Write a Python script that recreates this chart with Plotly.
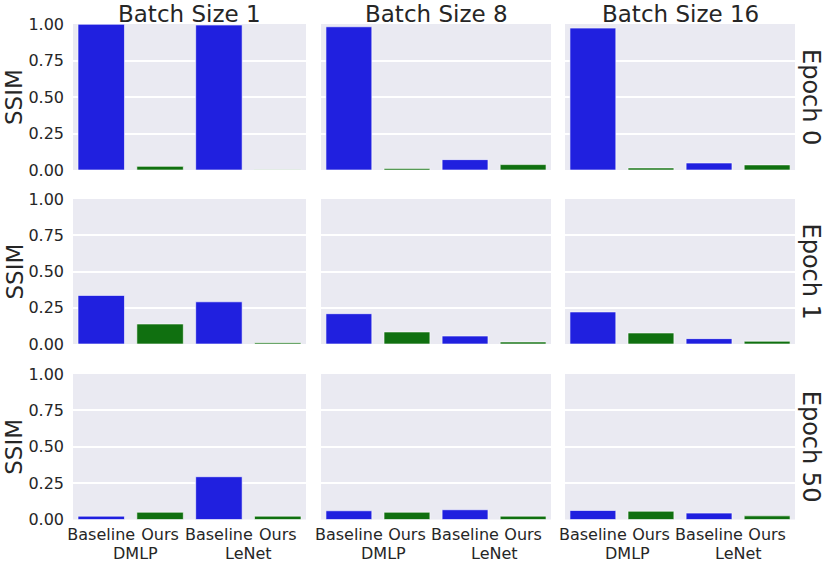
import plotly.graph_objects as go

# Grid of panels: rows = epochs, columns = batch sizes
batch_sizes = ["Batch Size 1", "Batch Size 8", "Batch Size 16"]
epochs = ["Epoch 0", "Epoch 1", "Epoch 50"]
methods = ["Baseline", "Ours", "Baseline", "Ours"]
models = ["DMLP", "LeNet"]
y_ticks = [0.0, 0.25, 0.5, 0.75, 1.0]

# per batch size: [DMLP baseline, DMLP ours, LeNet baseline, LeNet ours]
ssim_epoch0 = [
    [0.998, 0.025, 0.993, 0.002],
    [0.981, 0.011, 0.071, 0.037],
    [0.972, 0.014, 0.048, 0.035],
]
ssim_epoch1 = [
    [0.335, 0.138, 0.291, 0.009],
    [0.209, 0.083, 0.055, 0.014],
    [0.221, 0.076, 0.037, 0.019],
]
ssim_epoch50 = [
    [0.023, 0.050, 0.294, 0.023],
    [0.060, 0.050, 0.067, 0.023],
    [0.062, 0.057, 0.044, 0.025],
]
ssim = [ssim_epoch0, ssim_epoch1, ssim_epoch50]

BLUE = "#2020df"
GREEN = "#107010"
bar_colors = [BLUE, GREEN, BLUE, GREEN]
TEXT = "#262626"
FONT = "DejaVu Sans"

W, H = 830, 563
col_px = [(73, 306), (321, 551), (565, 795)]
row_px = [(24, 170), (199, 344), (374, 519.5)]

fig = go.Figure()
layout = {}
xs = list(range(len(methods)))

for i, ep in enumerate(epochs):
    for j, bs in enumerate(batch_sizes):
        idx = i * 3 + j + 1
        suffix = "" if idx == 1 else str(idx)
        fig.add_trace(go.Bar(
            x=xs,
            y=ssim[i][j],
            width=0.79,
            marker=dict(color=bar_colors, line=dict(color="rgba(255,255,255,0.6)", width=1)),
            xaxis="x" + suffix,
            yaxis="y" + suffix,
            showlegend=False,
        ))
        x0, x1 = col_px[j]
        y0, y1 = row_px[i]
        layout["xaxis" + suffix] = dict(
            domain=[x0 / W, x1 / W],
            anchor="y" + suffix,
            range=[-0.48, 3.48],
            tickvals=xs,
            ticktext=methods,
            showticklabels=(i == 2),
            showgrid=False,
            zeroline=False,
            ticks="",
            automargin=False,
            ticklabelstandoff=3,
            tickfont=dict(size=16, color=TEXT, family=FONT),
        )
        layout["yaxis" + suffix] = dict(
            domain=[1 - y1 / H, 1 - y0 / H],
            anchor="x" + suffix,
            range=[0, 1.0],
            tickvals=y_ticks,
            tickformat=".2f",
            showticklabels=(j == 0),
            showgrid=True,
            gridcolor="white",
            gridwidth=1.5,
            zeroline=False,
            ticks="",
            automargin=False,
            ticklabelstandoff=8,
            tickfont=dict(size=16, color=TEXT, family=FONT),
        )

annotations = []
for j, bs in enumerate(batch_sizes):
    x0, x1 = col_px[j]
    annotations.append(dict(
        text=bs, x=(x0 + x1) / 2 / W, y=1 - 14 / H, xref="paper", yref="paper",
        showarrow=False, xanchor="center", yanchor="middle",
        font=dict(size=23, color=TEXT, family=FONT),
    ))
    # model names under each pair of bars
    suffix = str(6 + j + 1)
    for k, m in enumerate(models):
        annotations.append(dict(
            text=m, x=0.59 if k == 0 else 2.5, y=1 - 553 / H, xref="x" + suffix, yref="paper",
            showarrow=False, xanchor="center", yanchor="middle",
            font=dict(size=16, color=TEXT, family=FONT),
        ))
for i, ep in enumerate(epochs):
    y0, y1 = row_px[i]
    yc = 1 - (y0 + y1) / 2 / H
    annotations.append(dict(
        text=ep, x=811 / W, y=yc, xref="paper", yref="paper",
        showarrow=False, xanchor="center", yanchor="middle", textangle=90,
        font=dict(size=24, color=TEXT, family=FONT),
    ))
    annotations.append(dict(
        text="SSIM", x=14 / W, y=yc, xref="paper", yref="paper",
        showarrow=False, xanchor="center", yanchor="middle", textangle=-90,
        font=dict(size=23, color=TEXT, family=FONT),
    ))

fig.update_layout(
    **layout,
    annotations=annotations,
    width=W,
    height=H,
    margin=dict(l=0, r=0, t=0, b=0, autoexpand=False),
    plot_bgcolor="#eaeaf2",
    paper_bgcolor="white",
    font=dict(family=FONT, color=TEXT),
    bargap=0.2,
)

# drop the page's default body margin so the figure sits at the window corner
fig.write_html(
    "out.html",
    config={"displayModeBar": False},
    post_script="document.body.style.margin='0';document.body.style.overflow='hidden';",
)
